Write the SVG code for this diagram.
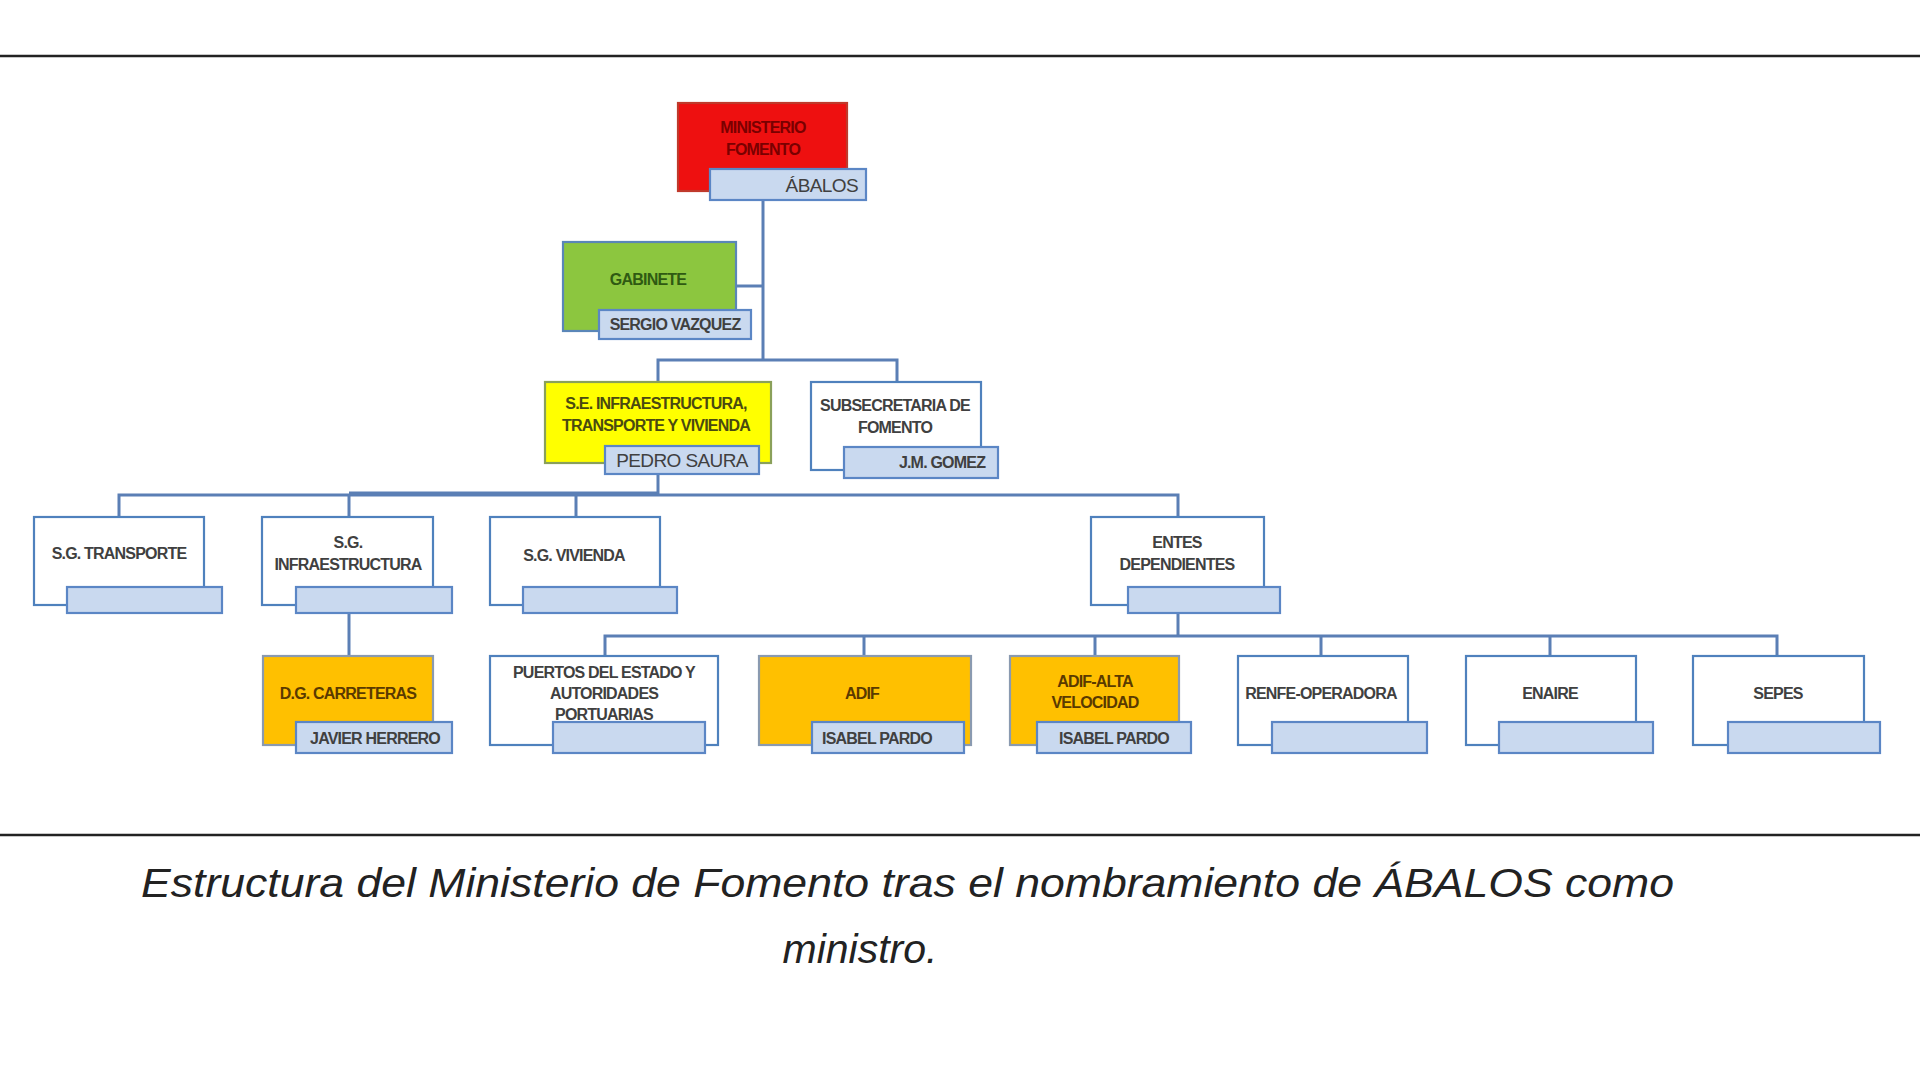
<svg xmlns="http://www.w3.org/2000/svg" width="1920" height="1080" viewBox="0 0 1920 1080">
<style>
.bg{fill:#ffffff}
.rule{stroke:#222;stroke-width:2.5}
.box{stroke:#4f81bd;stroke-width:2.2}
.white{fill:#ffffff}
.red{fill:#ee1010;stroke:#c0392b}
.green{fill:#8cc63f;stroke:#5a86b8}
.yellow{fill:#ffff00;stroke:#8aa05a}
.orange{fill:#ffc000;stroke:#8a9ab0}
.lbl{fill:#c9d9ef;stroke:#5b86c5;stroke-width:2.2}
.t{font-family:"Liberation Sans",Arial,sans-serif;font-size:16px;font-weight:bold;fill:#404040;text-anchor:middle;letter-spacing:-0.8px}
.tl{font-family:"Liberation Sans",Arial,sans-serif;font-size:19px;fill:#404040;text-anchor:middle;letter-spacing:-0.6px}
.tr{fill:#7a0000}
.tg{fill:#2f5a12}
.ty{fill:#4a4a10}
.to{fill:#5a3a00}
.conn{stroke:#5b7fb5;stroke-width:3;fill:none}
.cap{font-family:"Liberation Sans",Arial,sans-serif;font-style:italic;font-size:41px;fill:#222}
</style>
<rect class="bg" x="0" y="0" width="1920" height="1080"/>
<line class="rule" x1="0" y1="56" x2="1920" y2="56"/>
<line class="rule" x1="0" y1="835" x2="1920" y2="835"/>

<g id="connectors">
<path class="conn" d="M763 200 V360"/>
<path class="conn" d="M736 286 H763"/>
<path class="conn" d="M658 382 V360 H897 V382"/>
<path class="conn" d="M658 474 V495"/>
<path class="conn" d="M119 517 V495 H1178 V517"/>
<path class="conn" d="M349 493.5 H658" style="stroke-width:4"/>
<path class="conn" d="M349 495 V517"/>
<path class="conn" d="M576 495 V517"/>
<path class="conn" d="M349 613 V656"/>
<path class="conn" d="M1178 613 V636"/>
<path class="conn" d="M605 656 V636 H1777 V656"/>
<path class="conn" d="M864 636 V656"/>
<path class="conn" d="M1095 636 V656"/>
<path class="conn" d="M1321 636 V656"/>
<path class="conn" d="M1550 636 V656"/>
</g>

<g id="ministerio">
<rect class="box red" x="678" y="103" width="169" height="88"/>
<text class="t tr" x="763" y="133">MINISTERIO</text>
<text class="t tr" x="763" y="155">FOMENTO</text>
<rect class="lbl" x="710" y="169" width="156" height="31"/>
<text class="tl" x="858" y="192" style="text-anchor:end">ÁBALOS</text>
</g>

<g id="gabinete">
<rect class="box green" x="563" y="242" width="173" height="89"/>
<text class="t tg" x="648" y="285">GABINETE</text>
<rect class="lbl" x="599" y="310" width="152" height="29"/>
<text class="t" x="675" y="330">SERGIO VAZQUEZ</text>
</g>

<g id="se-infraestructura">
<rect class="box yellow" x="545" y="382" width="226" height="81"/>
<text class="t ty" x="656" y="409">S.E. INFRAESTRUCTURA,</text>
<text class="t ty" x="656" y="431">TRANSPORTE Y VIVIENDA</text>
<rect class="lbl" x="605" y="446" width="154" height="28"/>
<text class="tl" x="682" y="467">PEDRO SAURA</text>
</g>

<g id="subsecretaria">
<rect class="box white" x="811" y="382" width="170" height="88"/>
<text class="t" x="895" y="411">SUBSECRETARIA DE</text>
<text class="t" x="895" y="433">FOMENTO</text>
<rect class="lbl" x="844" y="447" width="154" height="31"/>
<text class="t" x="942" y="468">J.M. GOMEZ</text>
</g>

<g id="sg-transporte">
<rect class="box white" x="34" y="517" width="170" height="88"/>
<text class="t" x="119" y="559">S.G. TRANSPORTE</text>
<rect class="lbl" x="67" y="587" width="155" height="26"/>
</g>

<g id="sg-infraestructura">
<rect class="box white" x="262" y="517" width="171" height="88"/>
<text class="t" x="348" y="548">S.G.</text>
<text class="t" x="348" y="570">INFRAESTRUCTURA</text>
<rect class="lbl" x="296" y="587" width="156" height="26"/>
</g>

<g id="sg-vivienda">
<rect class="box white" x="490" y="517" width="170" height="88"/>
<text class="t" x="574" y="561">S.G. VIVIENDA</text>
<rect class="lbl" x="523" y="587" width="154" height="26"/>
</g>

<g id="entes-dependientes">
<rect class="box white" x="1091" y="517" width="173" height="88"/>
<text class="t" x="1177" y="548">ENTES</text>
<text class="t" x="1177" y="570">DEPENDIENTES</text>
<rect class="lbl" x="1128" y="587" width="152" height="26"/>
</g>

<g id="dg-carreteras">
<rect class="box orange" x="263" y="656" width="170" height="89"/>
<text class="t to" x="348" y="699">D.G. CARRETERAS</text>
<rect class="lbl" x="296" y="722" width="156" height="31"/>
<text class="t" x="375" y="744">JAVIER HERRERO</text>
</g>

<g id="puertos">
<rect class="box white" x="490" y="656" width="228" height="89"/>
<text class="t" x="604" y="678">PUERTOS DEL ESTADO Y</text>
<text class="t" x="604" y="699">AUTORIDADES</text>
<text class="t" x="604" y="720">PORTUARIAS</text>
<rect class="lbl" x="553" y="722" width="152" height="31"/>
</g>

<g id="adif">
<rect class="box orange" x="759" y="656" width="212" height="89"/>
<text class="t to" x="862" y="699">ADIF</text>
<rect class="lbl" x="812" y="722" width="152" height="31"/>
<text class="t" x="877" y="744">ISABEL PARDO</text>
</g>

<g id="adif-av">
<rect class="box orange" x="1010" y="656" width="169" height="89"/>
<text class="t to" x="1095" y="687">ADIF-ALTA</text>
<text class="t to" x="1095" y="708">VELOCIDAD</text>
<rect class="lbl" x="1037" y="722" width="154" height="31"/>
<text class="t" x="1114" y="744">ISABEL PARDO</text>
</g>

<g id="renfe">
<rect class="box white" x="1238" y="656" width="170" height="89"/>
<text class="t" x="1321" y="699">RENFE-OPERADORA</text>
<rect class="lbl" x="1272" y="722" width="155" height="31"/>
</g>

<g id="enaire">
<rect class="box white" x="1466" y="656" width="170" height="89"/>
<text class="t" x="1550" y="699">ENAIRE</text>
<rect class="lbl" x="1499" y="722" width="154" height="31"/>
</g>

<g id="sepes">
<rect class="box white" x="1693" y="656" width="171" height="89"/>
<text class="t" x="1778" y="699">SEPES</text>
<rect class="lbl" x="1728" y="722" width="152" height="31"/>
</g>

<text class="cap" x="141" y="897" textLength="1533" lengthAdjust="spacingAndGlyphs">Estructura del Ministerio de Fomento tras el nombramiento de ÁBALOS como</text>
<text class="cap" x="860" y="963" text-anchor="middle">ministro.</text>
</svg>
